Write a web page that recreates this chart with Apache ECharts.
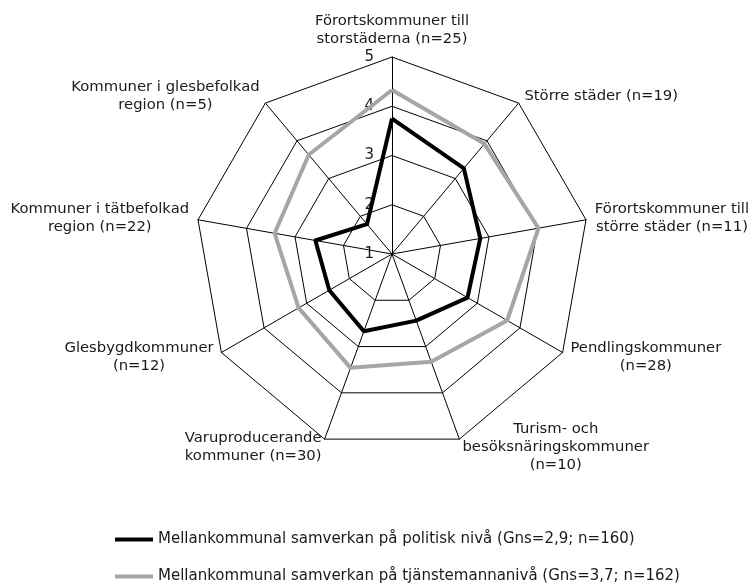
<!DOCTYPE html>
<html>
<head>
<meta charset="utf-8">
<style>
html, body { margin: 0; padding: 0; background: #fff; }
#chart { width: 754px; height: 583px; }
</style>
<script src="https://cdn.jsdelivr.net/npm/echarts@6/dist/echarts.min.js"></script>
</head>
<body>
<div id="chart"></div>
<script>
// kommungrupper, medurs från toppen
const categories = [
    'Förortskommuner till\nstorstäderna (n=25)',
    'Större städer (n=19)',
    'Förortskommuner till\nstörre städer (n=11)',
    'Pendlingskommuner\n(n=28)',
    'Turism- och\nbesöksnäringskommuner\n(n=10)',
    'Varuproducerande\nkommuner (n=30)',
    'Glesbygdkommuner\n(n=12)',
    'Kommuner i tätbefolkad\nregion (n=22)',
    'Kommuner i glesbefolkad\nregion (n=5)'
];

const politisk = [3.75, 3.27, 2.82, 2.77, 2.44, 2.67, 2.47, 2.58, 1.79];
const tjansteman = [4.33, 3.92, 4.02, 3.70, 3.33, 3.46, 3.19, 3.42, 3.63];

const seriesNames = [
    'Mellankommunal samverkan på politisk nivå (Gns=2,9; n=160)',
    'Mellankommunal samverkan på tjänstemannanivå (Gns=3,7; n=162)'
];
const seriesColors = ['#000000', '#a6a6a6'];

const tickLabels = ['1', '2', '3', '4', '5'];

const FONT = 'Verdana, "DejaVu Sans", sans-serif';

// radar ritar moturs, så vänd ordningen (första axeln kvar överst)
const order = categories.map((_, i) => i === 0 ? 0 : categories.length - i);
const reorder = (arr) => order.map(i => arr[i]);

const chart = echarts.init(document.getElementById('chart'));

const indicator = reorder(categories).map((c, i) => {
    const ind = { name: c, min: 1, max: 5 };
    if (i > 0) ind.axisLabel = { show: false };
    return ind;
});

// en legend per rad, så att de hamnar under varandra
const legendTops = [532, 569];
const legends = seriesNames.map((n, i) => ({
    left: 115,
    top: legendTops[i],
    padding: 0,
    itemWidth: 38,
    itemHeight: 4,
    icon: 'rect',
    data: [n],
    textStyle: { fontFamily: FONT, fontSize: 15, color: '#1a1a1a' }
}));

chart.setOption({
    animation: false,
    textStyle: { fontFamily: FONT },
    legend: legends,
    radar: {
        center: [392, 254],
        radius: 197,
        shape: 'polygon',
        startAngle: 90,
        splitNumber: 4,
        indicator: indicator,
        nameGap: 9,
        axisName: {
            fontFamily: FONT,
            fontSize: 14.8,
            lineHeight: 18,
            color: '#1a1a1a',
            formatter: (name) => name.split('\n').map(l => '{c|' + l + '}').join('\n'),
            rich: {
                c: { align: 'center', fontFamily: FONT, fontSize: 14.8, lineHeight: 18, color: '#1a1a1a' }
            }
        },
        axisLine: { lineStyle: { color: '#000', width: 1 } },
        splitLine: { lineStyle: { color: '#000', width: 1 } },
        splitArea: { show: false },
        axisTick: { show: false },
        axisLabel: {
            show: true,
            margin: 18,
            fontFamily: FONT,
            fontSize: 15,
            color: '#1a1a1a',
            formatter: (v) => tickLabels[Math.round(v) - 1] || ''
        }
    },
    series: [{
        type: 'radar',
        symbol: 'none',
        data: [
            {
                name: seriesNames[1],
                value: reorder(tjansteman),
                lineStyle: { color: seriesColors[1], width: 4 },
                itemStyle: { color: seriesColors[1] }
            },
            {
                name: seriesNames[0],
                value: reorder(politisk),
                lineStyle: { color: seriesColors[0], width: 4 },
                itemStyle: { color: seriesColors[0] }
            }
        ]
    }]
});
</script>
</body>
</html>
